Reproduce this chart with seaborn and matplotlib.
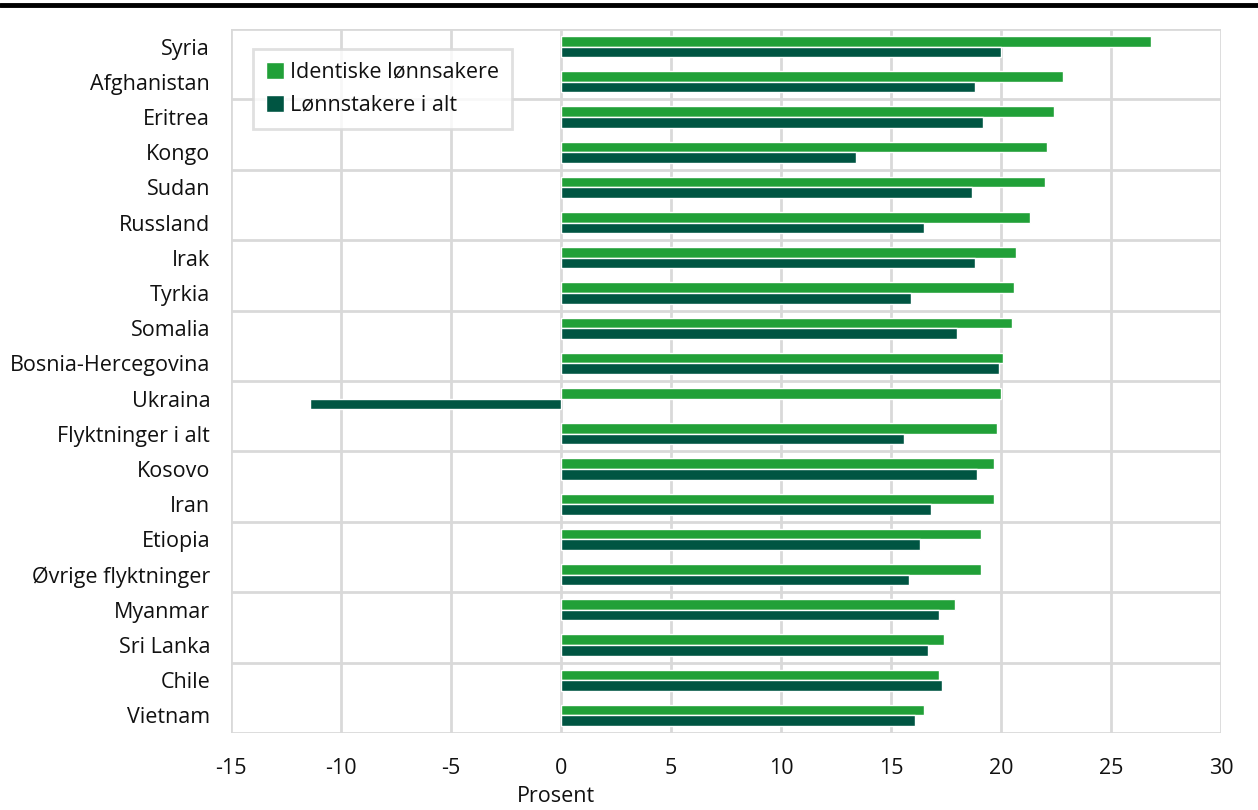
import matplotlib
matplotlib.use("Agg")
import matplotlib.pyplot as plt
import seaborn as sns
import pandas as pd
from matplotlib.lines import Line2D

countries = ["Syria", "Afghanistan", "Eritrea", "Kongo", "Sudan", "Russland", "Irak",
             "Tyrkia", "Somalia", "Bosnia-Hercegovina", "Ukraina", "Flyktninger i alt",
             "Kosovo", "Iran", "Etiopia", "Øvrige flyktninger", "Myanmar", "Sri Lanka",
             "Chile", "Vietnam"]
identiske = [26.8, 22.8, 22.4, 22.1, 22.0, 21.3, 20.7, 20.6, 20.5, 20.1, 20.0, 19.8,
             19.7, 19.7, 19.1, 19.1, 17.9, 17.4, 17.2, 16.5]
alle = [20.0, 18.8, 19.2, 13.4, 18.7, 16.5, 18.8, 15.9, 18.0, 19.9, -11.4, 15.6,
        18.9, 16.8, 16.3, 15.8, 17.2, 16.7, 17.3, 16.1]
series_names = ["Identiske lønnsakere", "Lønnstakere i alt"]
colors = ["#21A038", "#005542"]
xticks = [-15, -10, -5, 0, 5, 10, 15, 20, 25, 30]

df = pd.DataFrame({
    "land": countries * 2,
    "verdi": identiske + alle,
    "serie": [series_names[0]] * len(countries) + [series_names[1]] * len(countries),
})

sns.set_style("white")
plt.rcParams["font.family"] = ["Open Sans", "DejaVu Sans"]
plt.rcParams["text.color"] = "#111111"
plt.rcParams["xtick.color"] = "#111111"
plt.rcParams["ytick.color"] = "#111111"
plt.rcParams["axes.labelcolor"] = "#111111"

FS = 15.5
fig = plt.figure(figsize=(12.58, 8.10), dpi=100)
ax = fig.add_axes([231 / 1258, 1 - 733 / 810, 990 / 1258, (733 - 29) / 810])

sns.barplot(data=df, y="land", x="verdi", hue="serie", order=countries,
            hue_order=series_names, palette=colors, width=0.6, orient="h",
            saturation=1, ax=ax, legend=True)

ax.set_xlim(-15, 30)
ax.set_ylim(len(countries) - 0.5, -0.5)
ax.set_xticks(xticks)
ax.set_xticklabels([str(t) for t in xticks], fontsize=FS)
ax.tick_params(axis="y", labelsize=FS, length=0, pad=15)
ax.tick_params(axis="x", length=0, pad=18)
ax.set_ylabel("")
ax.set_xlabel("Prosent", fontsize=FS)
ax.xaxis.set_label_coords((556 - 231) / 990, -0.075)

grid_c = "#D9D9D9"
for t in xticks:
    ax.axvline(t, color=grid_c, lw=2, zorder=0)
for b in range(0, len(countries) + 1, 2):
    ax.axhline(b - 0.5, color=grid_c, lw=2, zorder=0)
for s in ax.spines.values():
    s.set_visible(False)

leg = ax.legend(loc="upper left", bbox_to_anchor=((253 - 231) / 990, 1 - (49 - 29) / 704),
                fontsize=FS, frameon=True, fancybox=False, edgecolor=grid_c,
                handlelength=0.85, handleheight=0.85, handletextpad=0.25,
                labelspacing=0.55, borderpad=0.6, borderaxespad=0)
leg.get_frame().set_linewidth(2)

fig.add_artist(Line2D([0, 1], [1 - 5 / 810, 1 - 5 / 810], color="black", lw=3.5,
                      transform=fig.transFigure))

fig.savefig("out.png", dpi=100, facecolor="white")
